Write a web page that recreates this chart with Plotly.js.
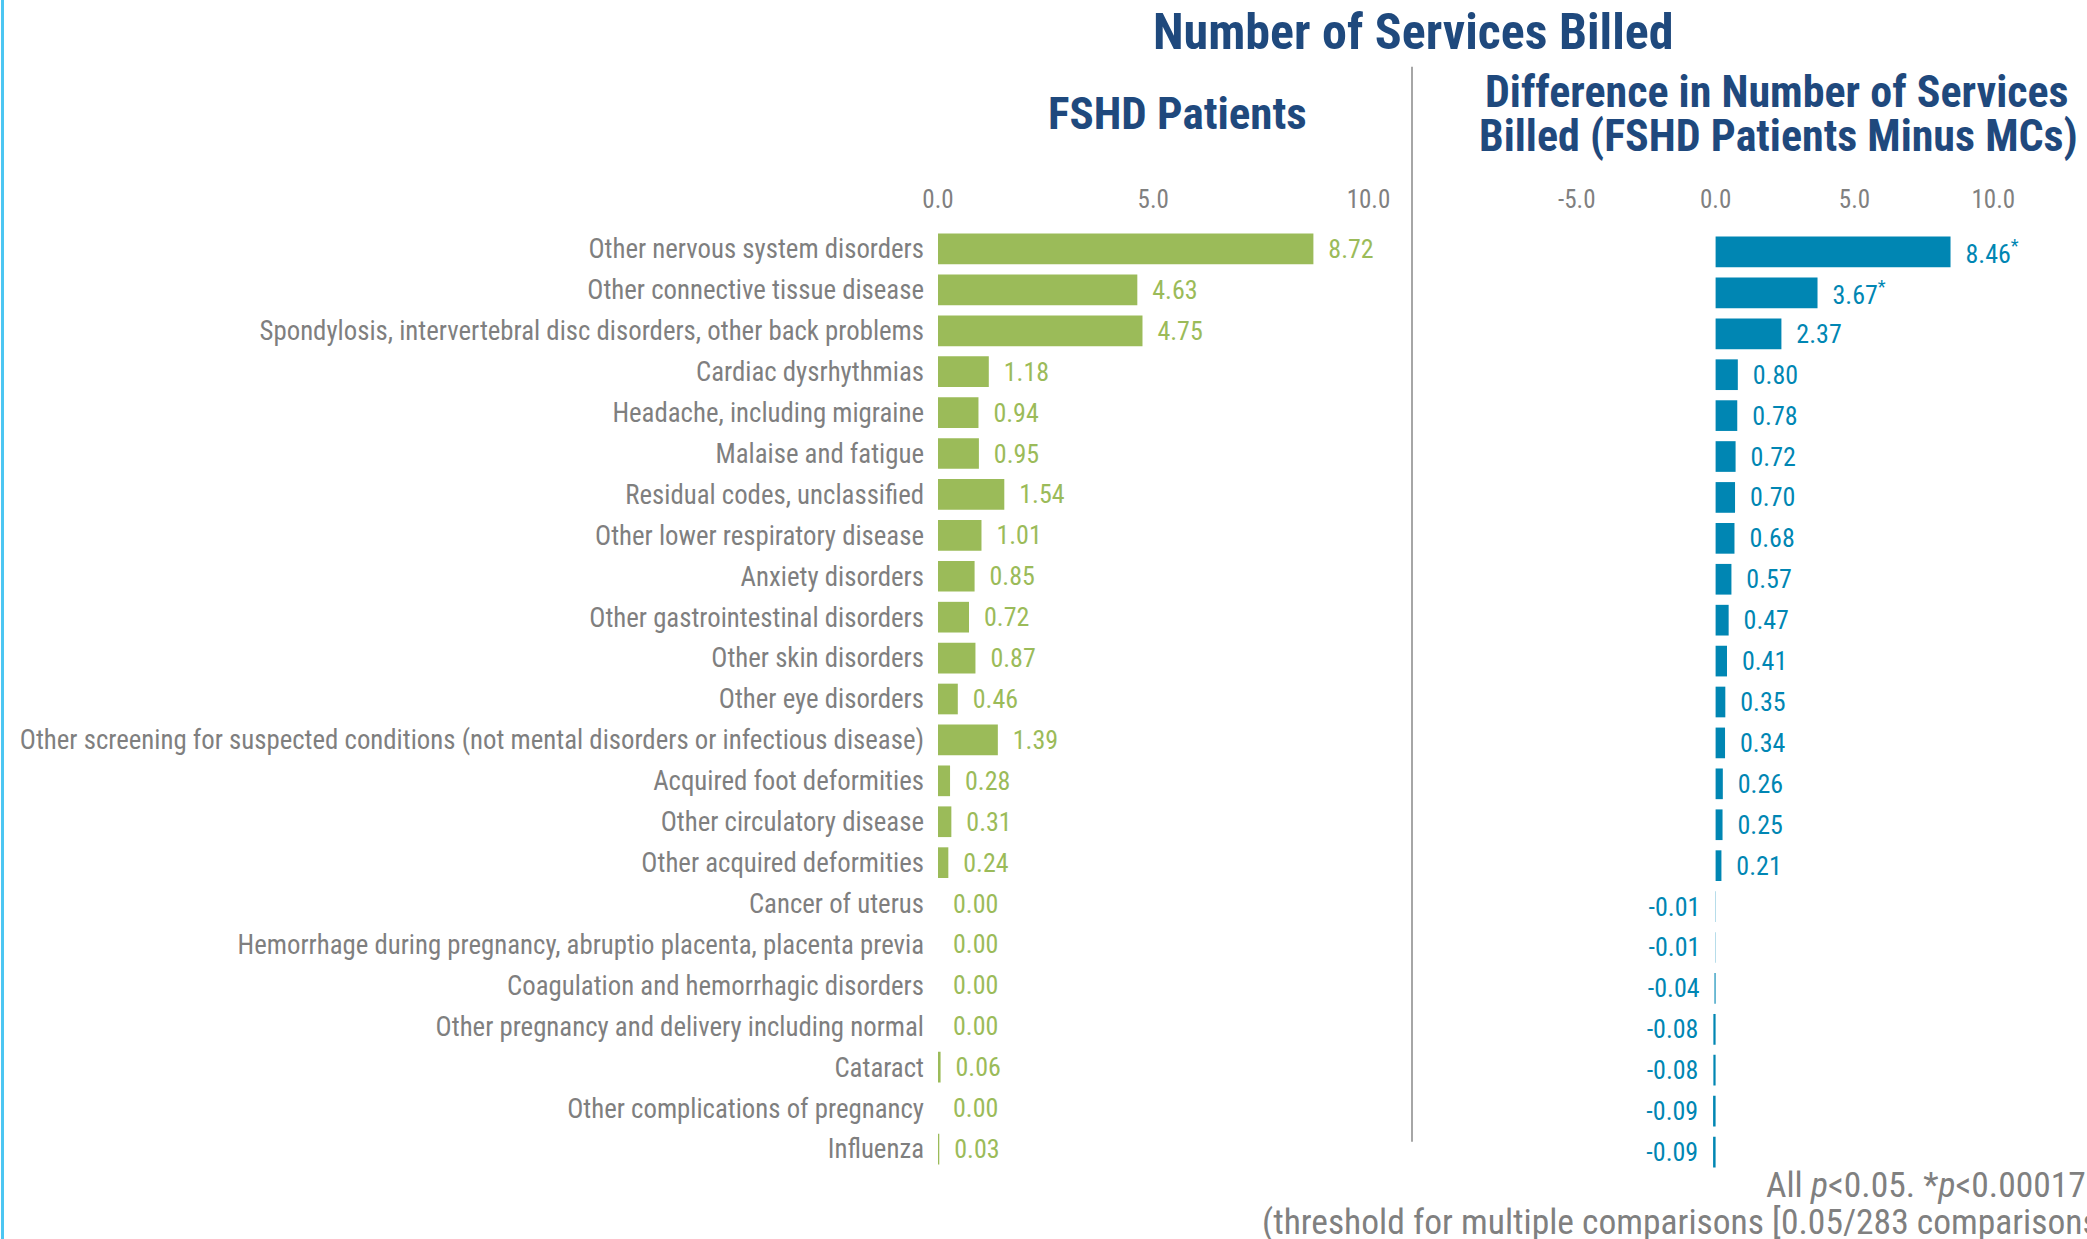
<!DOCTYPE html>
<html><head><meta charset="utf-8">
<script src="https://cdn.plot.ly/plotly-3.0.1.min.js"></script>
<style>html,body{margin:0;padding:0;background:#fff;overflow:hidden}</style>
</head><body><div id="chart" style="width:2087px;height:1239px"></div>
<script>
const categories = [
  "Other nervous system disorders",
  "Other connective tissue disease",
  "Spondylosis, intervertebral disc disorders, other back problems",
  "Cardiac dysrhythmias",
  "Headache, including migraine",
  "Malaise and fatigue",
  "Residual codes, unclassified",
  "Other lower respiratory disease",
  "Anxiety disorders",
  "Other gastrointestinal disorders",
  "Other skin disorders",
  "Other eye disorders",
  "Other screening for suspected conditions (not mental disorders or infectious disease)",
  "Acquired foot deformities",
  "Other circulatory disease",
  "Other acquired deformities",
  "Cancer of uterus",
  "Hemorrhage during pregnancy, abruptio placenta, placenta previa",
  "Coagulation and hemorrhagic disorders",
  "Other pregnancy and delivery including normal",
  "Cataract",
  "Other complications of pregnancy",
  "Influenza"
];
const fshdValues = [8.72, 4.63, 4.75, 1.18, 0.94, 0.95, 1.54, 1.01, 0.85, 0.72, 0.87, 0.46, 1.39, 0.28, 0.31, 0.24, 0.00, 0.00, 0.00, 0.00, 0.06, 0.00, 0.03];
const diffValues = [8.46, 3.67, 2.37, 0.80, 0.78, 0.72, 0.70, 0.68, 0.57, 0.47, 0.41, 0.35, 0.34, 0.26, 0.25, 0.21, -0.01, -0.01, -0.04, -0.08, -0.08, -0.09, -0.09];
const diffSignificant = [true, true, false, false, false, false, false, false, false, false, false, false, false, false, false, false, false, false, false, false, false, false, false];
const leftTicks = [0, 5, 10];
const leftTickText = ["0.0", "5.0", "10.0"];
const rightTicks = [-5, 0, 5, 10];
const rightTickText = ["-5.0", "0.0", "5.0", "10.0"];
const mainTitle = "Number of Services Billed";
const leftTitle = "FSHD Patients";
const rightTitle1 = "Difference in Number of Services";
const rightTitle2 = "Billed (FSHD Patients Minus MCs)";
const note1 = "All <i>p</i>&lt;0.05. *<i>p</i>&lt;0.00017";
const note2 = "(threshold for multiple comparisons [0.05/283 comparisons])";

const W = 2087, H = 1239;
const px = x => x / W;
const py = y => 1 - y / H;
const FONT = "Liberation Sans Narrow, Arial Narrow, Roboto Condensed, sans-serif";
const GREEN = "#9BBB59", BLUE = "#0086B3", GRAY = "#7F7F7F", NAVY = "#1F497D";
const NB = "\u00a0\u00a0";

const leftText = fshdValues.map(v => NB + v.toFixed(2));
const rightText = diffValues.map((v, i) => v >= 0 ? NB + v.toFixed(2) + (diffSignificant[i] ? "<sup>*</sup>" : "") : v.toFixed(2) + NB);

const traces = [
  {type: "bar", orientation: "h", x: fshdValues, y: categories, xaxis: "x", yaxis: "y",
   marker: {color: GREEN}, text: leftText, textposition: "outside", cliponaxis: false,
   constraintext: "none", textfont: {family: FONT, size: 26, color: GREEN}, hoverinfo: "skip"},
  {type: "bar", orientation: "h", x: diffValues, y: categories, xaxis: "x2", yaxis: "y2",
   marker: {color: BLUE}, text: rightText, textposition: "outside", cliponaxis: false,
   constraintext: "none", textfont: {family: FONT, size: 26, color: BLUE}, hoverinfo: "skip"}
];

const yTop = 228.5, yBot = 1169.5, shift = 3;
const layout = {
  width: W, height: H, margin: {l: 0, r: 0, t: 0, b: 0},
  paper_bgcolor: "#fff", plot_bgcolor: "rgba(0,0,0,0)", showlegend: false, bargap: 0.25,
  font: {family: FONT, color: GRAY},
  xaxis: {domain: [px(938), px(938 + 11 * 43.05)], range: [0, 11], side: "top", anchor: "y",
          tickvals: leftTicks, ticktext: leftTickText, showgrid: false, zeroline: false, showline: false,
          ticks: "", ticklabelstandoff: 15, tickfont: {family: FONT, size: 25, color: "#808080"}, fixedrange: true},
  yaxis: {domain: [py(yBot), py(yTop)], type: "category", categoryorder: "array", categoryarray: categories,
          autorange: "reversed", anchor: "x", showgrid: false, zeroline: false, showline: false, ticks: "",
          ticklabelstandoff: 13, tickfont: {family: FONT, size: 26.8, color: GRAY}, fixedrange: true},
  xaxis2: {domain: [px(1715.6 - 8 * 27.77), px(1715.6 + 12 * 27.77)], range: [-8, 12], side: "top", anchor: "y2",
           tickvals: rightTicks, ticktext: rightTickText, showgrid: false, zeroline: false, showline: false,
           ticks: "", ticklabelstandoff: 15 + shift, tickfont: {family: FONT, size: 25, color: "#808080"}, fixedrange: true},
  yaxis2: {domain: [py(yBot + shift), py(yTop + shift)], type: "category", categoryorder: "array", categoryarray: categories,
           autorange: "reversed", anchor: "x2", showgrid: false, zeroline: false, showline: false,
           showticklabels: false, ticks: "", fixedrange: true},
  shapes: [
    {type: "line", xref: "paper", yref: "paper", x0: px(1412), x1: px(1412), y0: py(66.7), y1: py(1141.7),
     line: {color: "#A6A6A6", width: 2}},
    {type: "line", xref: "paper", yref: "paper", x0: px(2.5), x1: px(2.5), y0: 0, y1: 1,
     line: {color: "#4CC6F2", width: 3}}
  ],
  annotations: [
    {text: "<b>" + mainTitle + "</b>", xref: "paper", yref: "paper", x: px(1413), y: py(32), xanchor: "center", yanchor: "middle",
     showarrow: false, font: {family: FONT, size: 50, color: NAVY}},
    {text: "<b>" + leftTitle + "</b>", xref: "paper", yref: "paper", x: px(1178), y: py(114), xanchor: "center", yanchor: "middle",
     showarrow: false, font: {family: FONT, size: 45, color: NAVY}},
    {text: "<b>" + rightTitle1 + "</b>", xref: "paper", yref: "paper", x: px(1777), y: py(92), xanchor: "center", yanchor: "middle",
     showarrow: false, font: {family: FONT, size: 44, color: NAVY}},
    {text: "<b>" + rightTitle2 + "</b>", xref: "paper", yref: "paper", x: px(1778), y: py(136), xanchor: "center", yanchor: "middle",
     showarrow: false, font: {family: FONT, size: 44, color: NAVY}},
    {text: note1, xref: "paper", yref: "paper", x: px(2088), y: py(1185), xanchor: "right", yanchor: "middle",
     showarrow: false, font: {family: FONT, size: 35.5, color: "#808080"}},
    {text: note2, xref: "paper", yref: "paper", x: px(1260), y: py(1222), xanchor: "left", yanchor: "middle",
     showarrow: false, font: {family: FONT, size: 35.5, color: "#808080"}}
  ]
};
Plotly.newPlot("chart", traces, layout, {staticPlot: true, displayModeBar: false});
</script>
</body></html>
